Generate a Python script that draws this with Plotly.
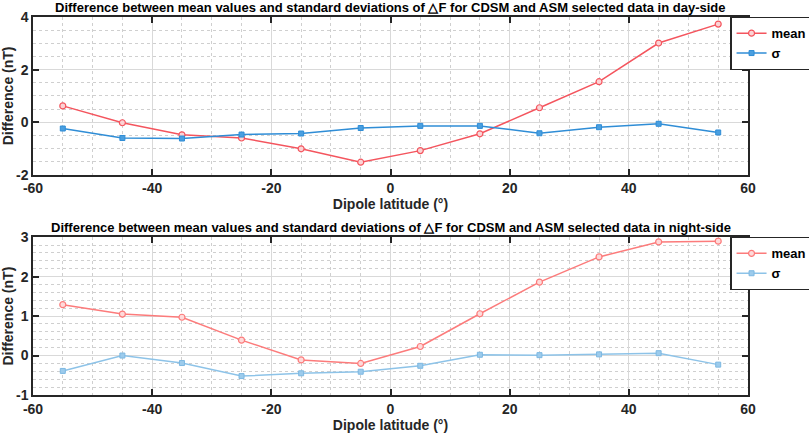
import plotly.graph_objects as go

# dipole latitude bins (centres)
lat = [-55, -45, -35, -25, -15, -5, 5, 15, 25, 35, 45, 55]

# day-side
day_mean = [0.62, -0.02, -0.48, -0.60, -1.01, -1.52, -1.08, -0.44, 0.55, 1.54, 3.01, 3.73]
day_sigma = [-0.24, -0.60, -0.62, -0.47, -0.43, -0.22, -0.14, -0.14, -0.42, -0.19, -0.06, -0.39]

# night-side
night_mean = [1.29, 1.05, 0.97, 0.39, -0.11, -0.20, 0.23, 1.06, 1.86, 2.50, 2.88, 2.90]
night_sigma = [-0.39, 0.00, -0.19, -0.52, -0.45, -0.41, -0.26, 0.02, 0.01, 0.03, 0.06, -0.23]

# tick labels (plain hyphen like the original)
x_ticks = [-60, -40, -20, 0, 20, 40, 60]
x_labels = ["-60", "-40", "-20", "0", "20", "40", "60"]
y1_ticks = [-2, 0, 2, 4]
y1_labels = ["-2", "0", "2", "4"]
y2_ticks = [-1, 0, 1, 2, 3]
y2_labels = ["-1", "0", "1", "2", "3"]

titles = [
    "Difference between mean values and standard deviations of \u25b3F for CDSM and ASM selected data in day-side",
    "Difference between mean values and standard deviations of \u25b3F for CDSM and ASM selected data in night-side",
]

FONT = "Liberation Sans"

fig = go.Figure()

# top panel
fig.add_trace(go.Scatter(x=lat, y=day_mean, name="mean", mode="lines+markers",
                         line=dict(color="#F4555E", width=1.5),
                         marker=dict(symbol="circle", size=6, color="#FBD3D5",
                                     line=dict(color="#F4555E", width=1.2)),
                         legend="legend", xaxis="x", yaxis="y"))
fig.add_trace(go.Scatter(x=lat, y=day_sigma, name="\u03c3", mode="lines+markers",
                         line=dict(color="#2F8DD6", width=1.5),
                         marker=dict(symbol="square", size=5, color="#4A9FE0",
                                     line=dict(color="#2F8DD6", width=1)),
                         legend="legend", xaxis="x", yaxis="y"))

# bottom panel
fig.add_trace(go.Scatter(x=lat, y=night_mean, name="mean", mode="lines+markers",
                         line=dict(color="#FC7B7B", width=1.5),
                         marker=dict(symbol="circle", size=6, color="#FEDADA",
                                     line=dict(color="#FC7B7B", width=1.2)),
                         legend="legend2", xaxis="x2", yaxis="y2"))
fig.add_trace(go.Scatter(x=lat, y=night_sigma, name="\u03c3", mode="lines+markers",
                         line=dict(color="#8DC3E8", width=1.5),
                         marker=dict(symbol="square", size=5, color="#9CCBEC",
                                     line=dict(color="#7DB8E2", width=1)),
                         legend="legend2", xaxis="x2", yaxis="y2"))

tickfont = dict(family=FONT, size=14, color="#262626", weight="bold")
titlefont = dict(family=FONT, size=14, color="#262626", weight="bold")

xcommon = dict(range=[-60, 60], tickvals=x_ticks, ticktext=x_labels,
               ticks="inside", ticklen=6, tickcolor="#262626", tickwidth=1.5,
               showline=True, linecolor="#262626", linewidth=1.5, mirror="ticks",
               showgrid=True, gridcolor="#D9D9D9", gridwidth=1,
               minor=dict(dtick=5, showgrid=True, gridcolor="#CFCFCF", griddash="dot", ticks=""),
               zeroline=False, tickfont=tickfont,
               title=dict(text="Dipole latitude (\u00b0)", font=titlefont, standoff=2))

ycommon = dict(ticks="inside", ticklen=6, tickcolor="#262626", tickwidth=1.5,
               showline=True, linecolor="#262626", linewidth=1.5, mirror="ticks",
               showgrid=True, gridcolor="#D9D9D9", gridwidth=1,
               zeroline=False, tickfont=tickfont,
               title=dict(text="Difference (nT)", font=titlefont, standoff=0))

legend_style = dict(xanchor="right", yanchor="top", xref="paper", yref="paper",
                    bgcolor="white", bordercolor="#262626", borderwidth=1.2,
                    font=dict(family=FONT, size=13, color="black", weight="bold"),
                    tracegroupgap=0, itemwidth=30)

fig.update_layout(
    width=809, height=433,
    margin=dict(l=33, r=61, t=17, b=38, autoexpand=False),
    plot_bgcolor="white", paper_bgcolor="white",
    font=dict(family=FONT, color="black"),
    xaxis=dict(xcommon, anchor="y"),
    yaxis=dict(ycommon, domain=[0.5825, 1], range=[-2, 4], tickvals=y1_ticks, ticktext=y1_labels,
               minor=dict(dtick=0.5, showgrid=True, gridcolor="#CFCFCF", griddash="dot", ticks="")),
    xaxis2=dict(xcommon, anchor="y2"),
    yaxis2=dict(ycommon, domain=[0, 0.4175], range=[-1, 3], tickvals=y2_ticks, ticktext=y2_labels,
                minor=dict(dtick=0.2, showgrid=True, gridcolor="#CFCFCF", griddash="dot", ticks="")),
    legend=dict(legend_style, x=1.09, y=1.0),
    legend2=dict(legend_style, x=1.09, y=0.4175),
    showlegend=True,
    annotations=[
        dict(text=titles[0], x=0.5, y=1.0, xref="paper", yref="paper", xanchor="center",
             yanchor="bottom", yshift=0, showarrow=False,
             font=dict(family=FONT, size=13, color="black", weight="bold")),
        dict(text=titles[1], x=0.5, y=0.4175, xref="paper", yref="paper", xanchor="center",
             yanchor="bottom", yshift=0, showarrow=False,
             font=dict(family=FONT, size=13, color="black", weight="bold")),
    ],
)

# the page body has a default 8px margin; drop it so the figure fills the window
fig.write_html("out.html", config={"displayModeBar": False},
               post_script="document.body.style.margin='0';")
